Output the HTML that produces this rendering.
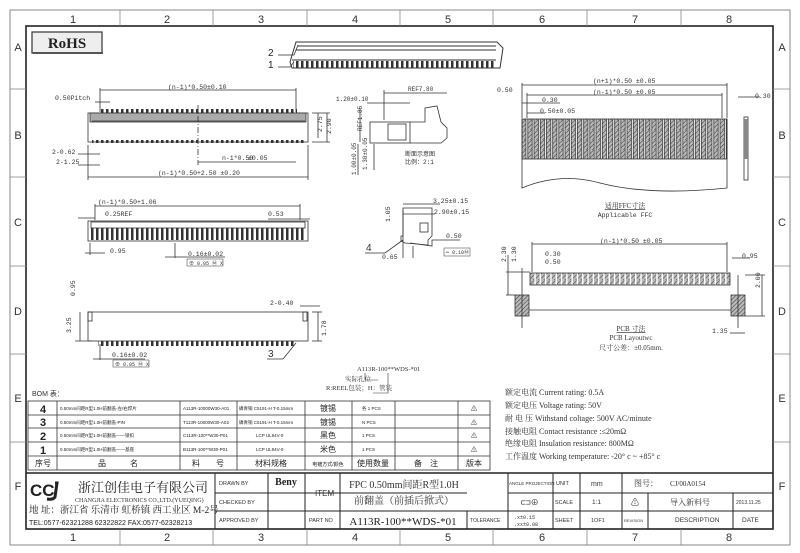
<!DOCTYPE html>
<html><head><meta charset="utf-8"><style>
html,body{margin:0;padding:0;background:#fff;}
svg{display:block;font-family:"Liberation Mono","Noto Sans CJK SC",monospace;}
.t{font-family:"Liberation Sans","Noto Sans CJK SC",sans-serif;}
.s{font-family:"Liberation Serif","Noto Serif CJK SC",serif;}
</style></head><body>
<svg width="800" height="553" viewBox="0 0 800 553" xmlns="http://www.w3.org/2000/svg">
<defs>
<pattern id="pins" width="5" height="10" patternUnits="userSpaceOnUse"><rect x="1" y="0" width="2.5" height="10" fill="#333"/></pattern>
<pattern id="hatch" width="3" height="3" patternUnits="userSpaceOnUse" patternTransform="rotate(45)"><rect width="3" height="3" fill="#bbb"/><line x1="0" y1="0" x2="0" y2="3" stroke="#444" stroke-width="1.2"/></pattern>
<pattern id="ffc" width="6.2" height="10" patternUnits="userSpaceOnUse"><rect width="6.2" height="10" fill="#fff"/><rect x="0.8" width="4.4" height="10" fill="url(#hatch)"/><line x1="0.8" y1="0" x2="0.8" y2="10" stroke="#222" stroke-width="0.7"/><line x1="5.2" y1="0" x2="5.2" y2="10" stroke="#222" stroke-width="0.7"/></pattern>
<pattern id="pcbp" width="5.3" height="10" patternUnits="userSpaceOnUse"><rect width="5.3" height="10" fill="#fff"/><rect x="0.5" width="3.8" height="10" fill="url(#hatch)"/></pattern>
</defs>
<g fill="none" stroke="#888" stroke-width="1">
<rect x="10" y="10" width="780" height="535"/>
</g>
<g fill="none" stroke="#222" stroke-width="1.6"><rect x="26" y="26" width="747" height="503"/></g>
<g stroke="#888" stroke-width="0.8">
<line x1="120" y1="10" x2="120" y2="26"/><line x1="213" y1="10" x2="213" y2="26"/><line x1="307" y1="10" x2="307" y2="26"/><line x1="400" y1="10" x2="400" y2="26"/><line x1="493" y1="10" x2="493" y2="26"/><line x1="587" y1="10" x2="587" y2="26"/><line x1="681" y1="10" x2="681" y2="26"/>
<line x1="120" y1="529" x2="120" y2="545"/><line x1="213" y1="529" x2="213" y2="545"/><line x1="307" y1="529" x2="307" y2="545"/><line x1="400" y1="529" x2="400" y2="545"/><line x1="493" y1="529" x2="493" y2="545"/><line x1="587" y1="529" x2="587" y2="545"/><line x1="681" y1="529" x2="681" y2="545"/>
<line x1="10" y1="89" x2="26" y2="89"/><line x1="10" y1="177" x2="26" y2="177"/><line x1="10" y1="266" x2="26" y2="266"/><line x1="10" y1="354" x2="26" y2="354"/><line x1="10" y1="442" x2="26" y2="442"/>
<line x1="773" y1="89" x2="790" y2="89"/><line x1="773" y1="177" x2="790" y2="177"/><line x1="773" y1="266" x2="790" y2="266"/><line x1="773" y1="354" x2="790" y2="354"/><line x1="773" y1="442" x2="790" y2="442"/>
</g>
<g class="t" font-size="11" fill="#333" text-anchor="middle">
<text x="73" y="23">1</text><text x="167" y="23">2</text><text x="261" y="23">3</text><text x="355" y="23">4</text><text x="448" y="23">5</text><text x="542" y="23">6</text><text x="635" y="23">7</text><text x="729" y="23">8</text>
<text x="73" y="541">1</text><text x="167" y="541">2</text><text x="261" y="541">3</text><text x="355" y="541">4</text><text x="448" y="541">5</text><text x="542" y="541">6</text><text x="635" y="541">7</text><text x="729" y="541">8</text>
<text x="18" y="51">A</text><text x="18" y="139">B</text><text x="18" y="226">C</text><text x="18" y="315">D</text><text x="18" y="402">E</text><text x="18" y="490">F</text>
<text x="782" y="51">A</text><text x="782" y="139">B</text><text x="782" y="226">C</text><text x="782" y="315">D</text><text x="782" y="402">E</text><text x="782" y="490">F</text>
</g>
<rect x="32" y="32" width="70" height="21" fill="#eee" stroke="#333" stroke-width="1.2"/>
<line x1="33" y1="53" x2="103" y2="53" stroke="#555" stroke-width="2"/>
<text x="67" y="48" class="s" font-size="15" font-weight="bold" text-anchor="middle" fill="#222">RoHS</text>

<g stroke="#333" stroke-width="1" fill="none">
<path d="M296 42 L497 42 L503 48 L500 68 L292 68 L290 62 Z"/>
<line x1="298" y1="46" x2="496" y2="46"/><line x1="296" y1="50" x2="496" y2="50"/>
<line x1="292" y1="60" x2="496" y2="60"/>
</g>
<rect x="293" y="61" width="203" height="7" fill="url(#pins)"/>
<path d="M278 55 L294 55 L298 45 M278 67 L290 67 L294 62" stroke="#333" fill="none" stroke-width="0.8"/>
<text x="268" y="56" class="t" font-size="10" fill="#222">2</text><text x="268" y="68" class="t" font-size="10" fill="#222">1</text>

<g stroke="#333" stroke-width="0.8" fill="none">
<rect x="88" y="113" width="220" height="29"/>
<rect x="90" y="113" width="216" height="9" fill="#aaa"/>
<line x1="92" y1="121" x2="305" y2="121"/>
<line x1="100" y1="90" x2="296" y2="90"/>
<line x1="100" y1="88" x2="100" y2="112"/><line x1="296" y1="88" x2="296" y2="112"/>
<line x1="88" y1="177" x2="308" y2="177"/><line x1="88" y1="145" x2="88" y2="180"/><line x1="308" y1="145" x2="308" y2="180"/>
<line x1="198" y1="162" x2="296" y2="162"/><line x1="198" y1="105" x2="198" y2="165" stroke-dasharray="6,2,1,2"/>
<line x1="78" y1="154" x2="100" y2="154"/><line x1="78" y1="165" x2="100" y2="165"/>
<line x1="95" y1="102" x2="110" y2="102"/>
<line x1="312" y1="113" x2="330" y2="113"/><line x1="312" y1="142" x2="330" y2="142"/>
<line x1="318" y1="113" x2="318" y2="138"/><line x1="327" y1="113" x2="327" y2="142"/>
</g>
<rect x="100" y="109" width="197" height="4" fill="url(#pins)"/>
<rect x="92" y="140" width="212" height="3" fill="url(#pins)"/>
<g font-size="6.5" fill="#333">
<text x="168" y="89">(n-1)*0.50±0.10</text>
<text x="55" y="100">0.50Pitch</text>
<text x="52" y="154">2-0.62</text><text x="56" y="164">2-1.25</text>
<text x="222" y="160">n-1*0.50</text><text x="248" y="160">±0.05</text>
<text x="158" y="175">(n-1)*0.50+2.50 ±0.20</text>
<text x="322" y="132" transform="rotate(-90 322 132)">2.75</text>
<text x="331" y="134" transform="rotate(-90 331 134)">2.90</text>
<text x="98" y="204">(n-1)*0.50+1.06</text>
</g>

<g stroke="#333" stroke-width="0.8" fill="none">
<rect x="370" y="122" width="40" height="21"/>
<path d="M410 122 L425 122 L425 108 L437 106 L441 122 L447 128 L447 138 L441 143 L410 143"/>
<rect x="388" y="124" width="18" height="16"/>
<line x1="384" y1="93" x2="447" y2="93"/><line x1="384" y1="90" x2="384" y2="120"/>
<line x1="367" y1="103" x2="410" y2="103"/>
<line x1="360" y1="108" x2="360" y2="142"/>
<line x1="358" y1="144" x2="358" y2="175"/><line x1="374" y1="144" x2="374" y2="170"/>
</g>
<g font-size="6" fill="#333">
<text x="336" y="101">1.20±0.10</text><text x="408" y="91">REF7.80</text>
<text x="362" y="131" transform="rotate(-90 362 131)">REF1.85</text>
<text x="356" y="175" transform="rotate(-90 356 175)">1.00±0.05</text>
<text x="367" y="170" transform="rotate(-90 367 170)">1.30±0.05</text>
<text x="405" y="156">断面示意图</text><text x="405" y="164">比例：2:1</text>
</g>

<g stroke="#333" stroke-width="0.8" fill="none">
<rect x="522" y="119" width="205" height="40" fill="url(#ffc)"/>
<path d="M522 119 L522 188 Q560 172 600 183 Q650 196 727 188 L727 119"/>
<line x1="522" y1="85" x2="727" y2="85"/><line x1="527" y1="95" x2="722" y2="95"/>
<line x1="522" y1="83" x2="522" y2="118"/><line x1="727" y1="83" x2="727" y2="118"/>
<line x1="527" y1="93" x2="527" y2="118"/><line x1="722" y1="93" x2="722" y2="118"/>
<line x1="522" y1="103" x2="560" y2="103"/><line x1="527" y1="113" x2="545" y2="113"/>
<rect x="744" y="117" width="4" height="63"/>
<line x1="738" y1="97" x2="760" y2="97"/>
</g>
<rect x="744" y="119" width="4" height="40" fill="#888"/>
<g font-size="6.5" fill="#333">
<text x="593" y="83">(n+1)*0.50 ±0.05</text><text x="593" y="94">(n-1)*0.50 ±0.05</text>
<text x="497" y="92">0.50</text><text x="542" y="102">0.30</text><text x="540" y="113">0.50±0.05</text>
<text x="755" y="98">0.30</text>
</g>
<text x="625" y="208" class="s" font-size="7" fill="#333" text-anchor="middle" text-decoration="underline">适用FFC寸法</text>
<text x="625" y="217" font-size="6.5" fill="#333" text-anchor="middle">Applicable FFC</text>

<g stroke="#333" stroke-width="0.8" fill="none">
<rect x="88" y="221" width="220" height="20"/>
<rect x="91" y="222" width="214" height="6"/>
<line x1="95" y1="206" x2="300" y2="206"/><line x1="95" y1="204" x2="95" y2="220"/><line x1="300" y1="204" x2="300" y2="220"/>
<line x1="78" y1="218" x2="95" y2="218"/><line x1="268" y1="219" x2="310" y2="219"/>
<line x1="90" y1="243" x2="90" y2="255"/><line x1="85" y1="253" x2="105" y2="253"/>
<line x1="175" y1="243" x2="175" y2="258"/><line x1="165" y1="257" x2="225" y2="257"/>
</g>
<rect x="91" y="228" width="214" height="12" fill="url(#pins)"/>
<g font-size="6.5" fill="#333">
<text x="105" y="216">0.25REF</text><text x="268" y="216">0.53</text>
<text x="110" y="253">0.95</text><text x="188" y="256">0.16±0.02</text>
<rect x="187" y="259" width="36" height="7" fill="none" stroke="#333" stroke-width="0.5"/>
<text x="189" y="265" font-size="5">⊕ 0.05 Ⓜ X</text>
</g>

<g stroke="#333" stroke-width="0.8" fill="none">
<rect x="88" y="312" width="220" height="29"/>
<rect x="88" y="312" width="4" height="9"/><rect x="303" y="312" width="4" height="9"/>
<line x1="80" y1="312" x2="80" y2="341"/><line x1="75" y1="341" x2="92" y2="341"/>
<line x1="312" y1="312" x2="322" y2="312"/><line x1="312" y1="341" x2="322" y2="341"/><line x1="318" y1="312" x2="318" y2="341"/>
<line x1="300" y1="306" x2="320" y2="306"/>
<line x1="100" y1="344" x2="100" y2="360"/><line x1="93" y1="359" x2="145" y2="359"/>
<path d="M267 359 L283 359 L296 343"/>
</g>
<rect x="98" y="341" width="198" height="5" fill="url(#pins)"/>
<g font-size="6.5" fill="#333">
<text x="75" y="296" transform="rotate(-90 75 296)">0.95</text>
<text x="71" y="333" transform="rotate(-90 71 333)">3.25</text>
<text x="326" y="336" transform="rotate(-90 326 336)">1.78</text>
<text x="270" y="305">2-0.40</text>
<text x="112" y="357">0.16±0.02</text>
<rect x="113" y="360" width="36" height="7" fill="none" stroke="#333" stroke-width="0.5"/>
<text x="115" y="366" font-size="5">⊕ 0.05 Ⓜ X</text>
<text x="268" y="357" class="t" font-size="10">3</text>
</g>

<g stroke="#333" stroke-width="0.8" fill="none">
<path d="M403 208 L432 208 L432 236 L428 240 L428 245 L405 243 L401 241 L401 236 L403 236 Z"/>
<rect x="420" y="223" width="8" height="9"/>
<line x1="403" y1="204" x2="440" y2="204"/><line x1="403" y1="214" x2="435" y2="214"/>
<line x1="403" y1="210" x2="403" y2="258"/><line x1="413" y1="246" x2="413" y2="258"/>
<path d="M365 253 L385 253 L403 240"/>
<path d="M410 243 L432 246 L432 240 L460 240"/>
</g>
<g font-size="6.5" fill="#333">
<text x="433" y="203">3.25±0.15</text><text x="434" y="214">2.90±0.15</text>
<text x="446" y="238">0.50</text><text x="382" y="259">0.65</text>
<text x="390" y="222" transform="rotate(-90 390 222)">1.05</text>
<rect x="444" y="248" width="26" height="8" fill="none" stroke="#333" stroke-width="0.5"/>
<text x="446" y="254" font-size="5">⌓ 0.10Ⓜ</text>
<text x="366" y="251" class="t" font-size="10">4</text>
</g>

<g stroke="#333" stroke-width="0.8" fill="none">
<rect x="530" y="273" width="200" height="12" fill="url(#pcbp)"/>
<rect x="515" y="295" width="14" height="21" fill="url(#hatch)"/>
<rect x="731" y="295" width="14" height="21" fill="url(#hatch)"/>
<line x1="529" y1="310" x2="731" y2="310"/>
<line x1="532" y1="244" x2="727" y2="244"/><line x1="532" y1="242" x2="532" y2="272"/><line x1="727" y1="242" x2="727" y2="272"/>
<line x1="522" y1="268" x2="522" y2="328"/><line x1="738" y1="275" x2="738" y2="328"/>
<line x1="506" y1="272" x2="530" y2="272"/><line x1="506" y1="295" x2="515" y2="295"/>
<line x1="508" y1="255" x2="508" y2="295"/>
<line x1="745" y1="275" x2="765" y2="275"/><line x1="745" y1="316" x2="765" y2="316"/><line x1="762" y1="275" x2="762" y2="316"/>
<line x1="730" y1="333" x2="745" y2="333"/><line x1="732" y1="258" x2="750" y2="258"/>
</g>
<g font-size="6.5" fill="#333">
<text x="600" y="243">(n-1)*0.50 ±0.05</text>
<text x="545" y="256">0.30</text><text x="545" y="264">0.50</text>
<text x="742" y="258">0.95</text><text x="712" y="333">1.35</text>
<text x="506" y="262" transform="rotate(-90 506 262)">2.30</text>
<text x="516" y="262" transform="rotate(-90 516 262)">1.30</text>
<text x="760" y="288" transform="rotate(-90 760 288)">2.00</text>
</g>
<text x="631" y="331" class="s" font-size="7" fill="#333" text-anchor="middle" text-decoration="underline">PCB 寸法</text>
<text x="631" y="340" class="s" font-size="7" fill="#333" text-anchor="middle">PCB Layoutwc</text>
<text x="631" y="350" class="s" font-size="7" fill="#333" text-anchor="middle">尺寸公差：±0.05mm.</text>

<g font-size="6.5" fill="#333" class="s">
<text x="357" y="371">A113R-100**WDS-*01</text>
<text x="345" y="381">实际孔位</text>
<text x="326" y="390">R:REEL包装；H：管装</text>
</g>
<path d="M365 373 L365 380 L378 380 M388 373 L388 393 L373 393" stroke="#333" fill="none" stroke-width="0.6"/>

<text x="32" y="396" class="t" font-size="7" fill="#333">BOM 表：</text>
<g stroke="#333" stroke-width="0.8" fill="none">
<rect x="28" y="401" width="462" height="69"/>
<line x1="28" y1="415" x2="490" y2="415"/><line x1="28" y1="428" x2="490" y2="428"/><line x1="28" y1="442" x2="490" y2="442"/><line x1="28" y1="456" x2="490" y2="456"/>
<line x1="57" y1="401" x2="57" y2="470"/><line x1="180" y1="401" x2="180" y2="470"/><line x1="237" y1="401" x2="237" y2="470"/><line x1="305" y1="401" x2="305" y2="470"/><line x1="352" y1="401" x2="352" y2="470"/><line x1="395" y1="401" x2="395" y2="470"/><line x1="458" y1="401" x2="458" y2="470"/>
</g>
<g class="t" fill="#222">
<g font-size="11" font-weight="bold" text-anchor="middle"><text x="43" y="413">4</text><text x="43" y="426">3</text><text x="43" y="440">2</text><text x="43" y="454">1</text></g>
<g font-size="4.5">
<text x="60" y="410">0.50mm间距R型1.0H前翻盖-左/右焊片</text><text x="60" y="424">0.50mm间距R型1.0H前翻盖-PIN</text><text x="60" y="437">0.50mm间距R型1.0H前翻盖——锁扣</text><text x="60" y="451">0.50mm间距R型1.0H前翻盖——基座</text>
<text x="183" y="410">A113R-10000W30-A01</text><text x="183" y="424">T113R-10000W30-A02</text><text x="183" y="437">C113R-100**W30-P01</text><text x="183" y="451">B113R-100**W30-P01</text>
<text x="239" y="410">磷青铜 C5191-H T-0.15mm</text><text x="239" y="424">磷青铜 C5191-H T-0.15mm</text><text x="256" y="437">LCP UL94V-0</text><text x="256" y="451">LCP UL94V-0</text>
<text x="362" y="410">各 1 PCS</text><text x="362" y="424">N PCS</text><text x="362" y="437">1 PCS</text><text x="362" y="451">1 PCS</text>
</g>
<g font-size="8" text-anchor="middle"><text x="328" y="411">镀锡</text><text x="328" y="425">镀锡</text><text x="328" y="438">黑色</text><text x="328" y="452">米色</text></g>
<g font-size="8" text-anchor="middle">
<text x="43" y="466">序号</text><text x="118" y="466">品　　　名</text><text x="208" y="466">料　　号</text><text x="271" y="466">材料规格</text><text x="328" y="466" font-size="5">电镀方式/颜色</text><text x="373" y="466">使用数量</text><text x="426" y="466">备　注</text><text x="474" y="466">版本</text>
</g>
<g font-size="6" text-anchor="middle"><text x="474" y="411">⚠</text><text x="474" y="425">⚠</text><text x="474" y="438">⚠</text><text x="474" y="452">⚠</text></g>
</g>

<g class="s" font-size="8" fill="#333">
<text x="505" y="395">额定电流 Current rating: 0.5A</text>
<text x="505" y="408">额定电压 Voltage rating: 50V</text>
<text x="505" y="421">耐 电 压 Withstand coltage: 500V AC/minute</text>
<text x="505" y="434">接触电阻 Contact resistance :≤20mΩ</text>
<text x="505" y="446">绝缘电阻 Insulation resistance: 800MΩ</text>
<text x="505" y="459">工作温度 Working temperature: -20° c ~ +85° c</text>
</g>

<g stroke="#222" stroke-width="1" fill="none">
<line x1="26" y1="473" x2="773" y2="473" stroke-width="1.4"/>
<line x1="215" y1="493" x2="467" y2="493"/><line x1="215" y1="511" x2="773" y2="511"/><line x1="508" y1="493" x2="773" y2="493"/>
<line x1="215" y1="473" x2="215" y2="529"/><line x1="268" y1="473" x2="268" y2="529"/><line x1="305" y1="473" x2="305" y2="529"/><line x1="340" y1="473" x2="340" y2="529"/>
<line x1="467" y1="511" x2="467" y2="529"/><line x1="508" y1="473" x2="508" y2="529"/><line x1="553" y1="473" x2="553" y2="529"/><line x1="580" y1="473" x2="580" y2="529"/><line x1="622" y1="473" x2="622" y2="529"/><line x1="648" y1="493" x2="648" y2="529"/><line x1="733" y1="493" x2="733" y2="529"/>
</g>
<text x="30" y="496" class="t" font-size="17" font-weight="bold" fill="#222">CC</text>
<path d="M55 483 L57 483 L55 497 Q53 500 47 499" stroke="#222" stroke-width="3" fill="none"/>
<text x="78" y="492" class="s" font-size="13" fill="#222">浙江创佳电子有限公司</text>
<text x="75" y="502" class="s" font-size="6" fill="#333">CHANGJIA ELECTRONICS CO.,LTD.(YUEQING)</text>
<text x="29" y="513" class="s" font-size="9.5" fill="#222">地 址：浙江省 乐清市 虹桥镇 西工业区 M-2号</text>
<text x="29" y="525" class="t" font-size="7" fill="#222">TEL:0577-62321288 62322822 FAX:0577-62328213</text>
<g class="t" font-size="5.5" fill="#333">
<text x="219" y="485">DRAWN BY</text><text x="219" y="504">CHECKED BY</text><text x="219" y="522">APPROVED BY</text>
<text x="309" y="522">PART NO</text><text x="470" y="522" font-size="5">TOLERANCE</text>
<text x="509" y="485" font-size="4.5">ANGLE PROJECTION</text><text x="556" y="485">UNIT</text><text x="555" y="504">SCALE</text><text x="555" y="522">SHEET</text>
<text x="591" y="486" font-size="7">mm</text><text x="592" y="504" font-size="6.5">1:1</text><text x="591" y="522">1OF1</text>
<text x="624" y="522" font-size="4">REVISION</text><text x="675" y="522" font-size="6.5">DESCRIPTION</text><text x="742" y="522" font-size="6.5">DATE</text>
<text x="736" y="504" font-size="5">2013.11.25</text>
<text x="315" y="496" font-size="8">ITEM</text>
</g>
<text x="286" y="485" class="s" font-size="10" font-weight="bold" text-anchor="middle" fill="#222">Beny</text>
<text x="404" y="488" class="s" font-size="10" text-anchor="middle" fill="#333">FPC 0.50mm间距R型1.0H</text>
<text x="404" y="504" class="s" font-size="10" text-anchor="middle" fill="#333">前翻盖（前插后掀式）</text>
<text x="403" y="525" class="s" font-size="11" text-anchor="middle" fill="#222">A113R-100**WDS-*01</text>
<text x="514" y="519" font-size="5" fill="#333">.x±0.15</text><text x="514" y="526" font-size="5" fill="#333">.xx±0.08</text>
<text x="521" y="505" font-size="8" fill="#333">⊏⊐⊕</text>
<text x="635" y="505" font-size="8" fill="#333" text-anchor="middle">⚠</text>
<text x="634" y="486" class="s" font-size="8" fill="#333">图号：</text>
<text x="670" y="486" class="s" font-size="7" fill="#333">CJ/00A0154</text>
<text x="690" y="505" class="s" font-size="8" fill="#333" text-anchor="middle">导入新料号</text>
</svg>
</body></html>
